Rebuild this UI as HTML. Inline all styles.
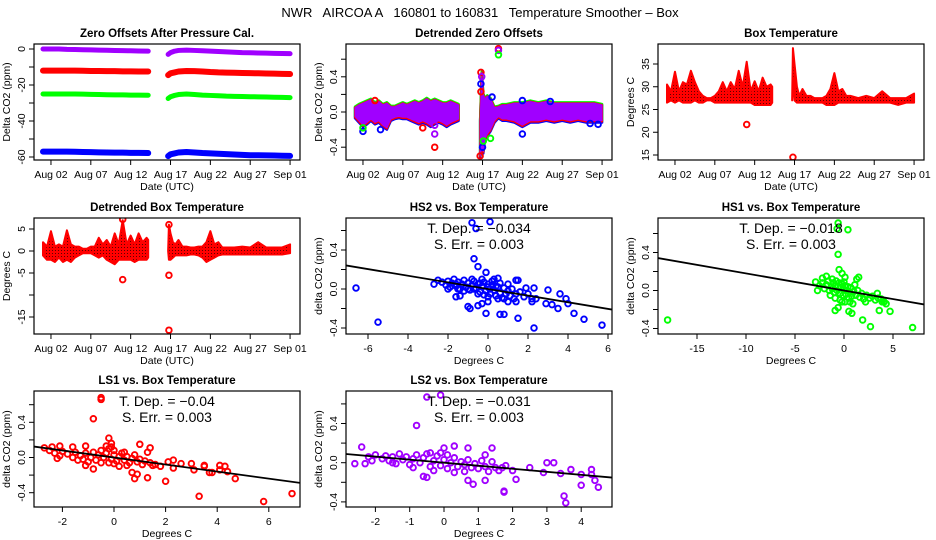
<!DOCTYPE html>
<html><head><meta charset="utf-8"><style>
html,body{margin:0;padding:0;background:#fff;}
svg{display:block;font-family:"Liberation Sans",Arial,sans-serif;}
</style></head><body>
<svg id="chart" width="936" height="540" viewBox="0 0 936 540" xmlns="http://www.w3.org/2000/svg">
<defs>
<pattern id="pr" width="3" height="3" patternUnits="userSpaceOnUse"><rect width="3" height="3" fill="#ff0000"/><rect x="1" y="1" width="1" height="1" fill="#600000"/></pattern>
</defs>
<text x="480" y="17" font-size="13" text-anchor="middle" xml:space="preserve">NWR   AIRCOA A   160801 to 160831   Temperature Smoother – Box</text>
</svg>
<script>
// ---- data ----
const dateTickDays=[1,6,11,16,21,26,31];
const dateTickLabels=["Aug 02","Aug 07","Aug 12","Aug 17","Aug 22","Aug 27","Sep 01"];
// Panel 1 zero offsets
const p1Days=[0,1,2,3,4,5,6,7,8,9,10,11,12,13.2,null,15.7,16,16.5,17,18,19,20,21,22,23,24,25,26,27,28,29,30,31];
const p1Purple=[0,0,0,-0.2,-0.3,-0.4,-0.5,-0.6,-0.7,-0.8,-0.9,-1,-1.1,-1.2,null,-3,-2,-1.2,-0.8,-0.6,-0.8,-1,-1.2,-1.4,-1.6,-1.8,-2,-2.1,-2.2,-2.3,-2.4,-2.5,-2.6];
const p1Red=[-12,-12,-12,-12,-12,-12.1,-12.2,-12.2,-12.3,-12.3,-12.4,-12.4,-12.5,-12.5,null,-14.5,-13.5,-13,-12.5,-12.2,-12.3,-12.5,-12.8,-13,-13.1,-13.2,-13.3,-13.4,-13.5,-13.6,-13.7,-13.8,-13.9];
const p1Green=[-25,-25,-25,-25,-25,-25.1,-25.2,-25.3,-25.4,-25.5,-25.5,-25.6,-25.6,-25.7,null,-27.5,-26.5,-25.8,-25.3,-25,-25.3,-25.6,-25.8,-26,-26.2,-26.3,-26.4,-26.5,-26.6,-26.7,-26.8,-26.9,-27];
const p1Blue=[-57,-57,-57,-57,-57.1,-57.2,-57.3,-57.4,-57.5,-57.6,-57.6,-57.7,-57.7,-57.8,null,-59.5,-58.5,-58,-57.5,-57.2,-57.5,-57.8,-58,-58.2,-58.4,-58.6,-58.8,-59,-59,-59.1,-59.2,-59.3,-59.4];
// Panel 2 detrended zero offsets (band envelope)
const p2Days=[0,0.5,1,1.5,2,2.5,3,3.5,4,4.5,5,5.5,6,6.5,7,7.5,8,8.5,9,9.5,10,10.5,11,11.5,12,12.5,13,null,15.7,15.9,16.1,16.3,16.6,17,17.5,18,18.5,19,20,21,22,23,24,25,26,27,28,29,30,31];
const p2Hi=[.05,.08,.1,.12,.14,.1,.12,.08,.1,.06,.06,.08,.1,.08,.1,.12,.1,.12,.15,.12,.14,.12,.1,.1,.12,.1,.08,null,-.1,.45,.2,.15,.18,.15,.05,.06,.08,.08,.1,.1,.12,.1,.12,.1,.1,.1,.1,.1,.1,.08];
const p2Lo=[-.05,-.1,-.15,-.12,-.08,-.12,-.1,-.15,-.18,-.08,-.06,-.05,-.06,-.06,-.08,-.1,-.12,-.1,-.12,-.15,-.12,-.1,-.12,-.15,-.12,-.1,-.08,null,-.5,-.4,-.45,-.3,-.25,-.2,-.1,-.05,-.08,-.08,-.1,-.15,-.1,-.1,-.08,-.1,-.08,-.1,-.08,-.1,-.1,-.1];
const p2OutDays=[10,10,10,1,3.2,2.5,15.7,15.8,15.8,15.9,15.8,16,16.1,18,18,18,21,21,24.5,8.5,1,29.5,30.5,17,17.2];
const p2OutVals=[-.4,-.25,-.15,-.22,-.2,.13,-.5,.45,.32,.4,.23,-.4,-.33,.72,.7,.65,-.25,.13,.12,-.18,-.18,-.13,-.14,-.3,.17];
const p2OutCols=["red","purple","purple","blue","blue","red","red","red","blue","purple","red","blue","green","red","purple","green","blue","blue","blue","red","green","blue","blue","green","blue"];
// Panel 3 box temperature
const p3Days=[0,0.5,1,1.5,2,2.5,3,3.5,4,4.5,5,5.5,6,6.5,7,7.5,8,8.5,9,9.5,10,10.5,11,11.5,12,12.5,13,13.2,null,15.7,15.8,16,16.3,16.6,17,17.5,18,18.5,19,19.5,20,20.5,21,21.5,22,22.5,23,24,25,26,27,28,29,30,31];
const p3Hi=[30.5,29,33.3,29,31,30.5,33.5,31,29,28,27.5,27.5,28,29,31,29,31,29.5,33.5,30,35.5,29,31.2,29,32,30,30.5,30,null,27,38.5,35,30,28,29.5,28,28,27.5,27.5,27.5,28,29.5,33,29,29.5,28,28,27.5,28,27.5,29,27.5,27.5,27.5,28.5];
const p3Lo=[26.5,27,26.5,27,26.5,26.5,26.5,27,26.5,26.5,27,27,26.5,26.5,26.5,26.5,26.5,26.5,26.5,26.5,26.5,26.5,26,26,26,26,26,26.5,null,27,32,27,26.5,26.5,26.5,26.5,26.5,26.5,26.5,26.5,26,26,26,26.5,26.5,26.5,26.5,26.5,26.5,26.5,26.5,26.5,26,26.5,26.5];
const p3OutDays=[10,15.8];
const p3OutVals=[21.7,14.5];
// Panel 4 detrended box temperature
const p4Hi=[2,1,4.5,1,1.5,1,4.7,1.5,1,1,0.5,0.5,1,1,3,1.5,2.5,1,4,1.5,7,1.5,3.5,1.5,4,2,3,2.5,null,0,6,4,2,1.5,2.5,1,1,0.8,0.8,1,1,2,4.5,1.5,2,0.8,0.8,0.8,1,0.8,2,0.8,0.8,0.8,1.5];
const p4Lo=[-1,-2,-2,-2.5,-1.5,-2.5,-2,-2.5,-1.5,-1,-0.5,-0.5,-0.5,-1,-1.5,-1,-2,-2.5,-3,-2,-2,-2,-2,-2.5,-2,-2,-2,-1.5,null,0,-2,-2,-1.5,-1,-1,-1,-1,-0.8,-0.8,-1,-1.5,-2.5,-2,-1.5,-1,-0.8,-0.8,-0.8,-0.8,-0.8,-0.8,-0.8,-0.8,-0.8,-0.5];
const p4OutDays=[10,15.8,15.8,10,15.8];
const p4OutVals=[-6.5,-5.5,-18,7.2,6];
// Scatter panels: [temperature, deltaCO2]
const hs2Pts=[[-6.6,.01],[-5.5,-.34],[-.8,.68],[-.6,.62],[.1,.69],[-.7,.31],[-.5,.23],[-.1,.17],[-1.6,-.08],[-1.4,-.07],[-1,-.18],[-.9,-.2],[-.5,-.17],[-.3,-.15],[-.1,-.25],[.6,-.26],[.8,-.26],[1.5,-.3],[2.3,-.4],[2.3,.01],[3,-.01],[3.2,-.16],[3.5,-.2],[3.6,-.05],[4,-.15],[4.3,-.25],[4.8,-.31],[5.7,-.37],[1.4,.09],[1.5,.09],[.5,.11],[-2.5,.09],[-2.7,.05],[2.9,-.15],[3.9,-.1],[1.9,.01],[2.4,-.1],[2.2,-.13],[1,-.13],[0,-.13],[1.4,-.13],
[-2.3,.07],[-2.1,.04],[-2,.08],[-1.9,.02],[-1.8,.06],[-1.7,.1],[-1.6,.03],[-1.5,.07],[-1.4,0],[-1.3,.05],[-1.2,.09],[-1.1,.02],[-1,.06],[-.9,-.01],[-.8,.04],[-.7,.08],[-.6,.01],[-.5,.05],[-.4,-.03],[-.3,.03],[-.2,.07],[-.1,-.02],[0,.02],[.1,-.05],[.2,.04],[.3,-.01],[.4,-.07],[.5,.02],[.6,-.04],[.7,-.09],[.8,.01],[.9,-.05],[1,-.02],[1.1,-.07],[1.2,0],[1.4,-.05],[1.6,-.03],[1.8,-.08],[2,-.05],[2.2,-.1],[-1.5,0],[-1,0],[-.5,-.05],[0,-.08],[.5,-.1],[-.3,.1],[.2,.08],[-.8,.1],[.6,.06],[1,.05],[-2,0],[-1.2,-.02],[-.2,-.06],[.3,.1],[.8,-.1],[1.3,-.1],[0,.05],[-.4,.06],[.4,.03],[-1.6,.05],[-.7,.0],[.1,.0]];
const hs1Pts=[[-18,-.31],[-.6,.71],[-.7,.65],[.4,.64],[-.6,.38],[-.5,.22],[7,-.39],[2.7,-.38],[1.9,-.31],[4.7,-.22],[3.6,-.21],[.8,-.24],[.5,-.22],[-.9,-.21],[-.6,-.18],[1.5,.14],[1.3,.12],[.1,.14],[-.2,.18],[-2.9,.09],[-2.2,.13],[3.4,-.03],[4.3,-.14],[3.9,-.12],[-1.8,.15],[-1.2,.12],[2.2,-.12],
[-2.5,.05],[-2.2,.08],[-2,.02],[-1.8,.06],[-1.6,.1],[-1.5,.0],[-1.3,.04],[-1.1,.08],[-1,-.02],[-.9,.05],[-.8,.1],[-.7,.0],[-.6,.04],[-.5,.08],[-.4,-.03],[-.3,.03],[-.2,.07],[-.1,-.05],[0,.01],[.1,.05],[.2,-.04],[.3,.0],[.4,.04],[.5,-.08],[.6,-.02],[.7,.03],[.8,-.06],[1,-.01],[1.2,-.05],[1.4,.0],[1.6,-.07],[1.8,-.03],[2,-.09],[2.3,-.05],[2.6,-.08],[2.9,-.06],[3.2,-.1],[3.5,-.08],[3.8,-.09],[4.1,-.12],[-1.4,-.05],[-.9,-.08],[-.4,-.1],[.1,-.12],[.6,-.12],[-1.2,.02],[.0,.09],[-.2,-.12],[1.1,.06],[-2.7,.0],[.9,-.14]];
const ls1Pts=[[-.5,.68],[-.5,.66],[-.8,.44],[-.2,.22],[-.1,.16],[-2.1,.13],[-1.1,.13],[-1.6,.12],[-2.7,.11],[-2.4,.12],[1,.15],[1.4,.11],[1.3,.06],[.7,-.17],[.9,-.19],[.8,-.24],[1.3,-.23],[2,-.27],[-.8,-.13],[-1.1,-.09],[2.1,-.05],[2.3,-.03],[3,-.07],[3.1,-.14],[3.5,-.09],[3.7,-.17],[3.8,-.17],[4.1,-.14],[4.3,-.1],[4.4,-.16],[4.7,-.24],[3.3,-.44],[5.8,-.5],[6.9,-.41],[2.6,-.07],[2.3,-.12],[4.1,-.09],[3.5,-.1],[1.8,-.1],[1.6,-.08],
[-2.5,.08],[-2.3,.05],[-2.1,.02],[-2,.07],[-1.8,.04],[-1.6,.0],[-1.5,.06],[-1.3,.02],[-1.2,-.02],[-1.1,.05],[-.9,.0],[-.8,.06],[-.7,-.03],[-.6,.03],[-.5,.08],[-.4,.0],[-.3,.05],[-.2,.1],[-.1,-.02],[0,.03],[0,.08],[.1,-.04],[.2,.01],[.3,.05],[.4,-.03],[.5,.01],[.6,-.06],[.7,-.01],[.8,.03],[.9,-.05],[1,-.02],[1.1,-.08],[1.2,-.04],[1.4,-.06],[1.5,-.09],[-1.4,-.03],[-1,-.05],[-.5,-.06],[0,-.07],[.5,-.09],[-.3,.13],[-.1,.12],[.2,-.1],[-2.2,-.01],[-.2,-.06],[.4,.06]];
const ls2Pts=[[-.5,.67],[-.1,.69],[-.8,.38],[-2.4,.16],[.3,.17],[.7,.15],[1.4,.15],[0,.15],[1.2,.08],[1.4,.01],[.7,-.18],[.85,-.22],[1.2,-.18],[1.75,-.29],[1.75,-.3],[2.1,-.17],[3.5,-.34],[3.55,-.41],[4,-.23],[4.5,-.25],[4.4,-.18],[-2.6,-.01],[-2.3,-.01],[-.6,-.14],[-.5,-.15],[3.2,0],[3,0],[3.7,-.07],[4.3,-.07],[4.3,-.12],[3.4,-.11],[2.5,-.05],[2,-.08],[1.7,-.05],[2.9,-.1],[4,-.12],
[-2.2,.06],[-2.1,.02],[-2,.08],[-1.8,.04],[-1.7,.07],[-1.6,.02],[-1.5,.06],[-1.4,-.01],[-1.3,.09],[-1.2,.03],[-1.1,.06],[-1,-.02],[-.9,.04],[-.8,.08],[-.7,.0],[-.6,.05],[-.5,.09],[-.4,-.04],[-.3,.02],[-.2,.07],[-.1,-.03],[0,.03],[.1,.08],[.1,-.06],[.2,.0],[.3,.05],[.4,-.04],[.5,.01],[.6,-.02],[.7,.03],[.8,-.05],[.9,-.01],[1,-.06],[1.1,.02],[1.2,-.04],[1.3,-.09],[1.5,-.05],[1.6,-.08],[1.8,-.03],[-.3,-.08],[-.1,.1],[.3,-.1],[-.9,-.05],[-1.5,.0],[.6,-.09],[-.4,.1]];
const slopes=[-0.034,-0.018,-0.04,-0.031];
const slopeLabels=["−0.034","−0.018","−0.04","−0.031"];
const serrLabels=["0.003","0.003","0.003","0.003"];

// ---- drawing ----
const svg=document.getElementById('chart');
const NS='http://www.w3.org/2000/svg';
function el(tag,attrs,parent){const e=document.createElementNS(NS,tag);for(const k in attrs)e.setAttribute(k,attrs[k]);(parent||svg).appendChild(e);return e;}
const PURPLE="#a000ff";
const COL={red:"#ff0000",green:"#00ff00",blue:"#0000ff",purple:PURPLE};

function panel(name,L,T,W,H,title,xlab,ylab,xs,ys,xt,xtl,yt,ytl){
  const g=el('g',{});
  
  
  const t=el('text',{x:L+W/2,y:T-7,'font-size':11.5,'font-weight':'bold','text-anchor':'middle'},g);t.textContent=title;
  
  
  const xa=el('g',{},g);
  
  
  xt.forEach((v,i)=>{const x=xs(v);el('line',{x1:x,x2:x,y1:T+H,y2:T+H+5,stroke:'#000','stroke-width':1},xa);
    if(xtl[i]!==''){const tx=el('text',{x:x,y:T+H+18,'font-size':10.5,'text-anchor':'middle'},xa);tx.textContent=xtl[i];}});
  const xl=el('text',{x:L+W/2,y:T+H+30,'font-size':10.5,'text-anchor':'middle'},g);xl.textContent=xlab;
  
  
  const ya=el('g',{},g);
  
  
  yt.forEach((v,i)=>{const y=ys(v);el('line',{x1:L-5,x2:L,y1:y,y2:y,stroke:'#000','stroke-width':1},ya);
    if(ytl[i]!==''){const tx=el('text',{x:L-9,y:y,'font-size':10.5,'text-anchor':'middle',transform:`rotate(-90 ${L-9} ${y})`},ya);tx.textContent=ytl[i];}});
  const yl=el('text',{x:L-24,y:T+H/2,'font-size':10.5,'text-anchor':'middle',transform:`rotate(-90 ${L-24} ${T+H/2})`},g);yl.textContent=ylab;
  
  
  const clip='c'+name;const cp=el('clipPath',{id:clip},g);el('rect',{x:L,y:T,width:W,height:H},cp);
  const plot=el('g',{'clip-path':`url(#${clip})`},g);
  
  
  const box=el('rect',{x:L,y:T,width:W,height:H,fill:'none',stroke:'#000','stroke-width':1.2},g);
  
  
  return plot;
}
function segs(xsArr,ysArr){const out=[];let cur=[];xsArr.forEach((d,i)=>{if(d===null||ysArr[i]===null){if(cur.length)out.push(cur);cur=[];}else cur.push([d,ysArr[i]]);});if(cur.length)out.push(cur);return out;}
function band(g,days,hi,lo,xs,ys,fill,stroke,sw,name){
  const H=segs(days,hi),Lo=segs(days,lo);
  H.forEach((s,k)=>{const l=Lo[k];const pts=s.map(p=>xs(p[0])+','+ys(p[1])).concat(l.slice().reverse().map(p=>xs(p[0])+','+ys(p[1])));
    const pg=el('polygon',{points:pts.join(' '),fill:fill,stroke:stroke,'stroke-width':sw,'stroke-linejoin':'round'},g);
    
    });
}
function pt(g,x,y,c,name){const e=el('circle',{cx:x,cy:y,r:2.8,fill:'none',stroke:c,'stroke-width':1.9},g);
  
  }

const colL=[34,346,658],W=266,rowT=[44,218,391],H=116;
const dayX=L=>d=>L+9+7.97*d;

// Panel 1
{const L=colL[0],T=rowT[0];const xs=dayX(L),ys=v=>49-1.8*v;
 const g=panel('zero-offsets-panel',L,T,W,H,'Zero Offsets After Pressure Cal.','Date (UTC)','Delta CO2 (ppm)',xs,ys,dateTickDays,dateTickLabels,[0,-10,-20,-30,-40,-50,-60],['0','','-20','','-40','','-60']);
 [[p1Purple,PURPLE,5,'purple'],[p1Red,'#ff0000',6,'red'],[p1Green,'#00ff00',5,'green'],[p1Blue,'#0000ff',6,'blue']].forEach(([arr,c,w,n])=>{
  segs(p1Days,arr).forEach(s=>{const pl=el('polyline',{points:s.map(p=>xs(p[0])+','+ys(p[1])).join(' '),fill:'none',stroke:c,'stroke-width':w,'stroke-linecap':'round','stroke-linejoin':'round'},g);
   
   });});}
// Panel 2
{const L=colL[1],T=rowT[0];const xs=dayX(L),ys=v=>112-88*v;
 const g=panel('detrended-offsets-panel',L,T,W,H,'Detrended Zero Offsets','Date (UTC)','Delta CO2 (ppm)',xs,ys,dateTickDays,dateTickLabels,[-0.4,-0.2,0,0.2,0.4,0.6],['-0.4','','0.0','','0.4','']);
 band(g,p2Days,p2Hi,p2Lo.map(v=>v===null?null:v-0.02),xs,ys,'#0000ff','#0000ff',2.5,'band-blue');
 band(g,p2Days,p2Hi.map(v=>v===null?null:v+0.01),p2Lo,xs,ys,'#00ff00','#00ff00',2.5,'band-green');
 band(g,p2Days,p2Hi,p2Lo.map(v=>v===null?null:v-0.01),xs,ys,'#ff0000','#ff0000',2,'band-red');
 band(g,p2Days,p2Hi,p2Lo,xs,ys,PURPLE,PURPLE,1,'band-purple');
 p2OutDays.forEach((d,i)=>pt(g,xs(d),ys(p2OutVals[i]),COL[p2OutCols[i]],'outlier-point'));}
// Panel 3
{const L=colL[2],T=rowT[0];const xs=dayX(L),ys=v=>155-4.55*(v-15);
 const g=panel('box-temperature-panel',L,T,W,H,'Box Temperature','Date (UTC)','Degrees C',xs,ys,dateTickDays,dateTickLabels,[15,20,25,30,35],['15','20','25','30','35']);
 band(g,p3Days,p3Hi,p3Lo,xs,ys,'url(#pr)','#ff0000',2,'temperature-band');
 p3OutDays.forEach((d,i)=>pt(g,xs(d),ys(p3OutVals[i]),'#ff0000','outlier-point'));}
// Panel 4
{const L=colL[0],T=rowT[1];const xs=dayX(L),ys=v=>251-4.4*v;
 const g=panel('detrended-temperature-panel',L,T,W,H,'Detrended Box Temperature','Date (UTC)','Degrees C',xs,ys,dateTickDays,dateTickLabels,[5,0,-5,-10,-15],['5','0','-5','','-15']);
 band(g,p3Days,p4Hi,p4Lo,xs,ys,'url(#pr)','#ff0000',2,'temperature-band');
 p4OutDays.forEach((d,i)=>pt(g,xs(d),ys(p4OutVals[i]),'#ff0000','outlier-point'));}
// scatter panels
function scatter(name,title,L,T,xs,ys,xt,xtl,pts,c,k,x0,x1){
 const g=panel(name,L,T,W,H,title,'Degrees C','delta CO2 (ppm)',xs,ys,xt,xtl,[-0.4,-0.2,0,0.2,0.4,0.6],['-0.4','','0.0','','0.4','']);
 pts.forEach(p=>pt(g,xs(p[0]),ys(p[1]),c,'scatter-point'));
 const ln=el('line',{x1:xs(x0),y1:ys(slopes[k]*x0),x2:xs(x1),y2:ys(slopes[k]*x1),stroke:'#000','stroke-width':1.8},g);
 
 
 const t1=el('text',{x:L+W/2,y:T+15,'font-size':14,'text-anchor':'middle'},g.parentNode);t1.textContent='T. Dep. =  '+slopeLabels[k];
 
 
 const t2=el('text',{x:L+W/2,y:T+31,'font-size':14,'text-anchor':'middle'},g.parentNode);t2.textContent='S. Err. =  '+serrLabels[k];
 
 
}
scatter('hs2-vs-temp-panel','HS2 vs. Box Temperature',colL[1],rowT[1],v=>488+20*v,v=>289-97.5*v,[-6,-4,-2,0,2,4,6],['-6','-4','-2','0','2','4','6'],hs2Pts,'#0000ff',0,-8,7);
scatter('hs1-vs-temp-panel','HS1 vs. Box Temperature',colL[2],rowT[1],v=>844+9.8*v,v=>290.5-95*v,[-15,-10,-5,0,5],['-15','-10','-5','0','5'],hs1Pts,'#00ff00',1,-20,9);
scatter('ls1-vs-temp-panel','LS1 vs. Box Temperature',colL[0],rowT[2],v=>114+25.8*v,v=>457.5-88*v,[-2,0,2,4,6],['-2','0','2','4','6'],ls1Pts,'#ff0000',2,-4,8);
scatter('ls2-vs-temp-panel','LS2 vs. Box Temperature',colL[1],rowT[2],v=>444+34.3*v,v=>462.7-98*v,[-2,-1,0,1,2,3,4],['-2','-1','0','1','2','3','4'],ls2Pts,PURPLE,3,-4,6);
</script>
</body></html>
